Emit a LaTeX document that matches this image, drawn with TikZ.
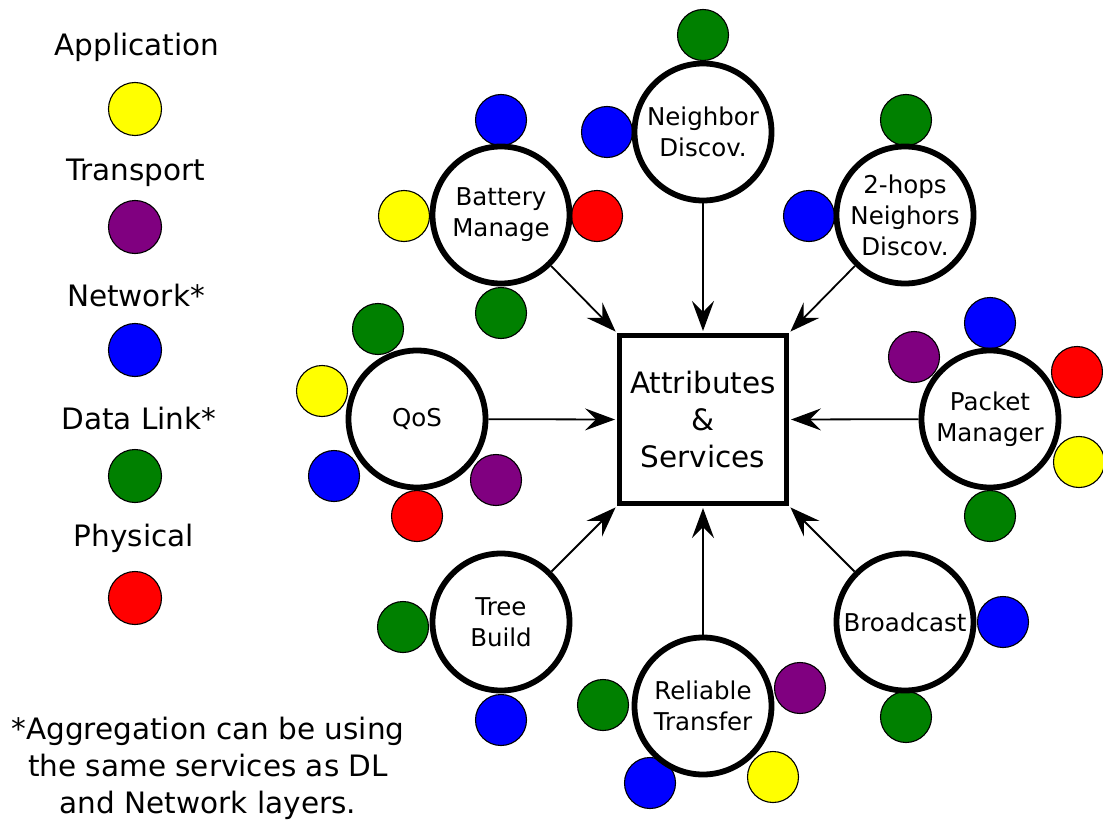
\documentclass[tikz,border=0pt]{standalone}
\usepackage{fontspec}
\setmainfont{DejaVu Sans}
\usetikzlibrary{arrows.meta}
\definecolor{appc}{HTML}{FFFF00}
\definecolor{trnc}{HTML}{800080}
\definecolor{netc}{HTML}{0000FF}
\definecolor{dlkc}{HTML}{008000}
\definecolor{phyc}{HTML}{FF0000}
\begin{document}
\begin{tikzpicture}[x=1pt,y=-1pt,
  bigfont/.style={font=\fontsize{29.5}{37}\selectfont},
  service/.style={circle, draw, line width=5.8pt, fill=white, minimum size=137pt,
    inner sep=0pt, align=center, font=\fontsize{24.5}{31}\selectfont},
  dot/.style={circle, draw, line width=1.1pt, minimum size=51pt, inner sep=0pt},
  legdot/.style={dot, minimum size=53pt},
  hub/.style={rectangle, draw, line width=5pt, fill=white, minimum width=167pt,
    minimum height=168pt, align=center, bigfont},
  feed/.style={line width=1.8pt, shorten >=2pt,
    -{Stealth[length=30pt,width=22pt,inset=11pt]}},
  legtext/.style={bigfont, anchor=center}]
\useasboundingbox (0,0) rectangle (1103,824);

% legend
\node[legtext] (lApp) at (137,47) {Application};
\node[legdot, fill=appc] (dApp) at (135,109) {};
\node[legtext] (lTrn) at (136,173) {Transport};
\node[legdot, fill=trnc] (dTrn) at (135,227) {};
\node[legtext] (lNet) at (136,296) {Network*};
\node[legdot, fill=netc] (dNet) at (135,350) {};
\node[legtext] (lDlk) at (139,418) {Data Link*};
\node[legdot, fill=dlkc] (dDlk) at (135,476) {};
\node[legtext] (lPhy) at (134,538) {Physical};
\node[legdot, fill=phyc] (dPhy) at (135,598) {};

\node[bigfont, align=center] (note) at (208,768)
  {*Aggregation can be using\\the same services as DL\\and Network layers.};

% layer dots around each service
\node[dot, fill=dlkc] (ndG) at (703,35) {};
\node[dot, fill=netc] (ndB) at (607,132) {};

\node[dot, fill=netc] (bmB) at (501,120) {};
\node[dot, fill=appc] (bmY) at (404,216) {};
\node[dot, fill=phyc] (bmR) at (597,216) {};
\node[dot, fill=dlkc] (bmG) at (501,313) {};

\node[dot, fill=dlkc] (thG) at (906,120) {};
\node[dot, fill=netc] (thB) at (809,216) {};

\node[dot, fill=dlkc] (qsG) at (378,329) {};
\node[dot, fill=appc] (qsY) at (322,391) {};
\node[dot, fill=netc] (qsB) at (334,476) {};
\node[dot, fill=phyc] (qsR) at (417,516) {};
\node[dot, fill=trnc] (qsP) at (496,480) {};

\node[dot, fill=trnc] (pmP) at (914,357) {};
\node[dot, fill=netc] (pmB) at (990,323) {};
\node[dot, fill=phyc] (pmR) at (1077,372) {};
\node[dot, fill=appc] (pmY) at (1079,462) {};
\node[dot, fill=dlkc] (pmG) at (990,516) {};

\node[dot, fill=dlkc] (tbG) at (403,627) {};
\node[dot, fill=netc] (tbB) at (501,720) {};

\node[dot, fill=dlkc] (rtG) at (603,705) {};
\node[dot, fill=trnc] (rtP) at (800,688) {};
\node[dot, fill=netc] (rtB) at (650,783) {};
\node[dot, fill=appc] (rtY) at (773,777) {};

\node[dot, fill=netc] (bcB) at (1003,622) {};
\node[dot, fill=dlkc] (bcG) at (906,717) {};

% services
\node[service] (nd) at (703,132) {Neighbor\\Discov.};
\node[service] (bm) at (501,215) {Battery\\Manage};
\node[service] (th) at (905,215) {2-hops\\Neighors\\Discov.};
\node[service] (qs) at (417,419) {QoS};
\node[service] (pm) at (990,419) {Packet\\Manager};
\node[service] (tb) at (501,622) {Tree\\Build};
\node[service] (rt) at (703,706) {Reliable\\Transfer};
\node[service] (bc) at (905,622) {Broadcast};

% central block
\node[hub] (core) at (703,419.5) {Attributes\\\&\\Services};

% connectors
\draw[feed] (nd) -- (core.north);
\draw[feed] (bm) -- (core.north west);
\draw[feed] (th) -- (core.north east);
\draw[feed] (qs) -- (core.west);
\draw[feed] (pm) -- (core.east);
\draw[feed] (tb) -- (core.south west);
\draw[feed] (rt) -- (core.south);
\draw[feed] (bc) -- (core.south east);
\end{tikzpicture}
\end{document}
